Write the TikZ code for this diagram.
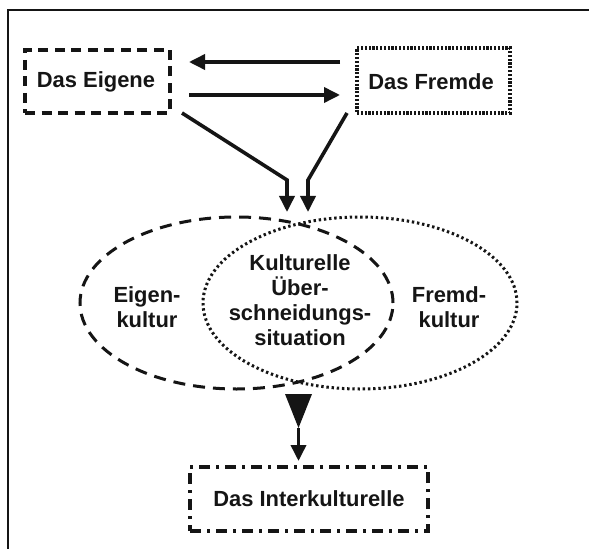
\documentclass[tikz,border=0pt]{standalone}
\usepackage{fontspec}
\setmainfont{Liberation Sans}
\usetikzlibrary{shapes.geometric,arrows.meta}
\definecolor{ink}{HTML}{151515}
\begin{document}
\begin{tikzpicture}[x=1bp,y=-1bp,
  every node/.style={font=\fontsize{22}{25}\selectfont\bfseries, text=ink},
  boxE/.style={draw=ink, line width=3.8bp, dash pattern=on 10bp off 6.5bp, minimum width=145bp, minimum height=63bp, inner sep=0},
  boxF/.style={draw=ink, line width=3.8bp, dash pattern=on 2.2bp off 1.6bp, minimum width=153bp, minimum height=65bp, inner sep=0},
  boxI/.style={draw=ink, line width=3.8bp, dash pattern=on 11bp off 6bp on 3bp off 6bp, minimum width=238bp, minimum height=64bp, inner sep=0},
  ellE/.style={ellipse, draw=ink, line width=3bp, dash pattern=on 12bp off 8bp, minimum width=313bp, minimum height=172bp, inner sep=0},
  ellF/.style={ellipse, draw=ink, line width=3bp, dash pattern=on 2.4bp off 2.8bp, minimum width=314bp, minimum height=172bp, inner sep=0},
  arr/.style={draw=ink, line width=3.6bp, -{Triangle[length=16bp,width=15bp]}},
  lbl/.style={align=center, inner sep=0}
]
\useasboundingbox (0,0) rectangle (589,549);
\fill[white] (0,0) rectangle (589,549);
% frame
\draw[ink, line width=2.2bp] (589,10) -- (8,10) -- (8,549);

% nodes
\node[boxE] (E) at (97.5,81.5) {};
\node[lbl] (Et) at (96,82) {Das Eigene};
\node[boxF] (F) at (433.5,80.5) {};
\node[lbl] (Ft) at (431,82) {Das Fremde};

\node[ellE] (EK) at (236.5,303) {};
\node[ellF] (FK) at (360,303) {};
\node[lbl] (EKt) at (147,307) {Eigen-\\kultur};
\node[lbl] (FKt) at (449,307) {Fremd-\\kultur};
\node[lbl] (Kt) at (300,300) {Kulturelle\\Über-\\schneidungs-\\situation};

\node[boxI] (I) at (309,499) {};
\node[lbl] (It) at (309,499) {Das Interkulturelle};

% horizontal arrows
\coordinate (h1s) at (340,62);
\coordinate (h1e) at (189,62);
\coordinate (h2s) at (189,95);
\coordinate (h2e) at (340,95);
\draw[arr] (h1s) -- (h1e);
\draw[arr] (h2s) -- (h2e);

% converging arrows
\coordinate (l0) at (182,113);
\coordinate (l1) at (287,180);
\coordinate (l2) at (287,212);
\coordinate (r0) at (347,113);
\coordinate (r1) at (308,180);
\coordinate (r2) at (308,212);
\draw[arr] (l0) -- (l1) -- (l2);
\draw[arr] (r0) -- (r1) -- (r2);

% bottom triangle and arrow
\coordinate (t1) at (285,394);
\coordinate (t2) at (312,394);
\coordinate (t3) at (298.5,428);
\coordinate (t4) at (298.5,461);
\fill[ink] (t1) -- (t2) -- (t3) -- cycle;
\draw[arr] (t3) -- (t4);
\end{tikzpicture}
\end{document}
